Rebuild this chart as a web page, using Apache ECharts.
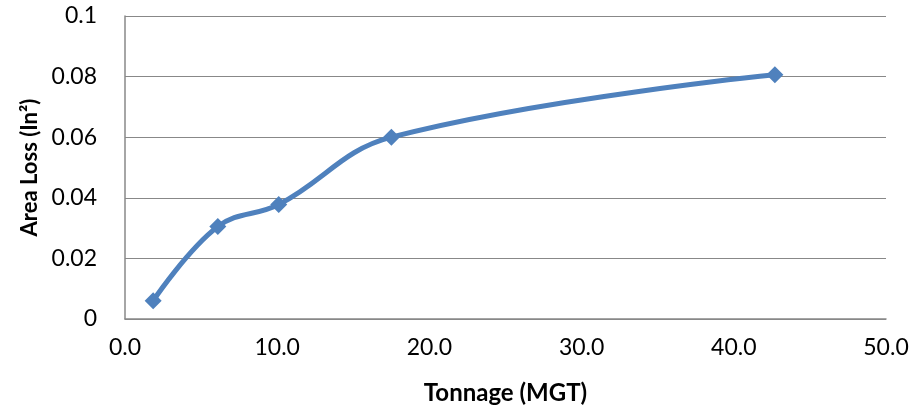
<!DOCTYPE html>
<html>
<head>
<meta charset="utf-8">
<script src="https://cdn.jsdelivr.net/npm/echarts@6/dist/echarts.min.js"></script>
<style>
  html, body { margin: 0; padding: 0; background: #fff; }
  #chart { width: 917px; height: 410px; }
</style>
</head>
<body>
<div id="chart"></div>
<script>
const tonnage = [1.85, 6.1, 10.1, 17.5, 42.7];
const areaLoss = [0.006, 0.0305, 0.0378, 0.06, 0.0806];
const xTicks = [0, 10, 20, 30, 40, 50];
const yTicks = [0, 0.02, 0.04, 0.06, 0.08, 0.1];

let chart = echarts.init(document.getElementById("chart"));
let font = "Lato, 'Open Sans', sans-serif";
let option = {
  animation: false,
  grid: { left: 125, right: 31, top: 16, bottom: 90 },
  xAxis: {
    type: "value",
    min: xTicks[0],
    max: xTicks[xTicks.length - 1],
    interval: 10,
    name: "Tonnage (MGT)",
    nameLocation: "middle",
    nameGap: 62,
    nameTextStyle: { fontFamily: font, fontSize: 24, fontWeight: "bold", color: "#000" },
    axisLine: { show: true, lineStyle: { color: "#888", width: 1.5 } },
    axisTick: { show: false },
    splitLine: { show: false },
    axisLabel: {
      fontFamily: font,
      fontSize: 23,
      color: "#000",
      margin: 17,
      formatter: (v) => v.toFixed(1),
    },
  },
  yAxis: {
    type: "value",
    min: yTicks[0],
    max: yTicks[yTicks.length - 1],
    interval: 0.02,
    name: "Area Loss (In²)",
    nameLocation: "middle",
    nameGap: 83,
    nameTextStyle: { fontFamily: font, fontSize: 22, fontWeight: "bold", color: "#000" },
    axisLine: { show: true, lineStyle: { color: "#888", width: 1.5 } },
    axisTick: { show: false },
    splitLine: { show: true, lineStyle: { color: "#888", width: 1.2 } },
    axisLabel: {
      fontFamily: font,
      fontSize: 23,
      color: "#000",
      margin: 28,
      formatter: (v) => String(Math.round(v * 100) / 100),
    },
  },
  series: [
    {
      type: "line",
      data: tonnage.map((t, i) => [t, areaLoss[i]]),
      smooth: 0.4,
      symbol: "diamond",
      symbolSize: 17,
      lineStyle: { color: "#4F81BD", width: 5 },
      itemStyle: { color: "#4F81BD" },
    },
  ],
};
chart.setOption(option);
</script>
</body>
</html>
